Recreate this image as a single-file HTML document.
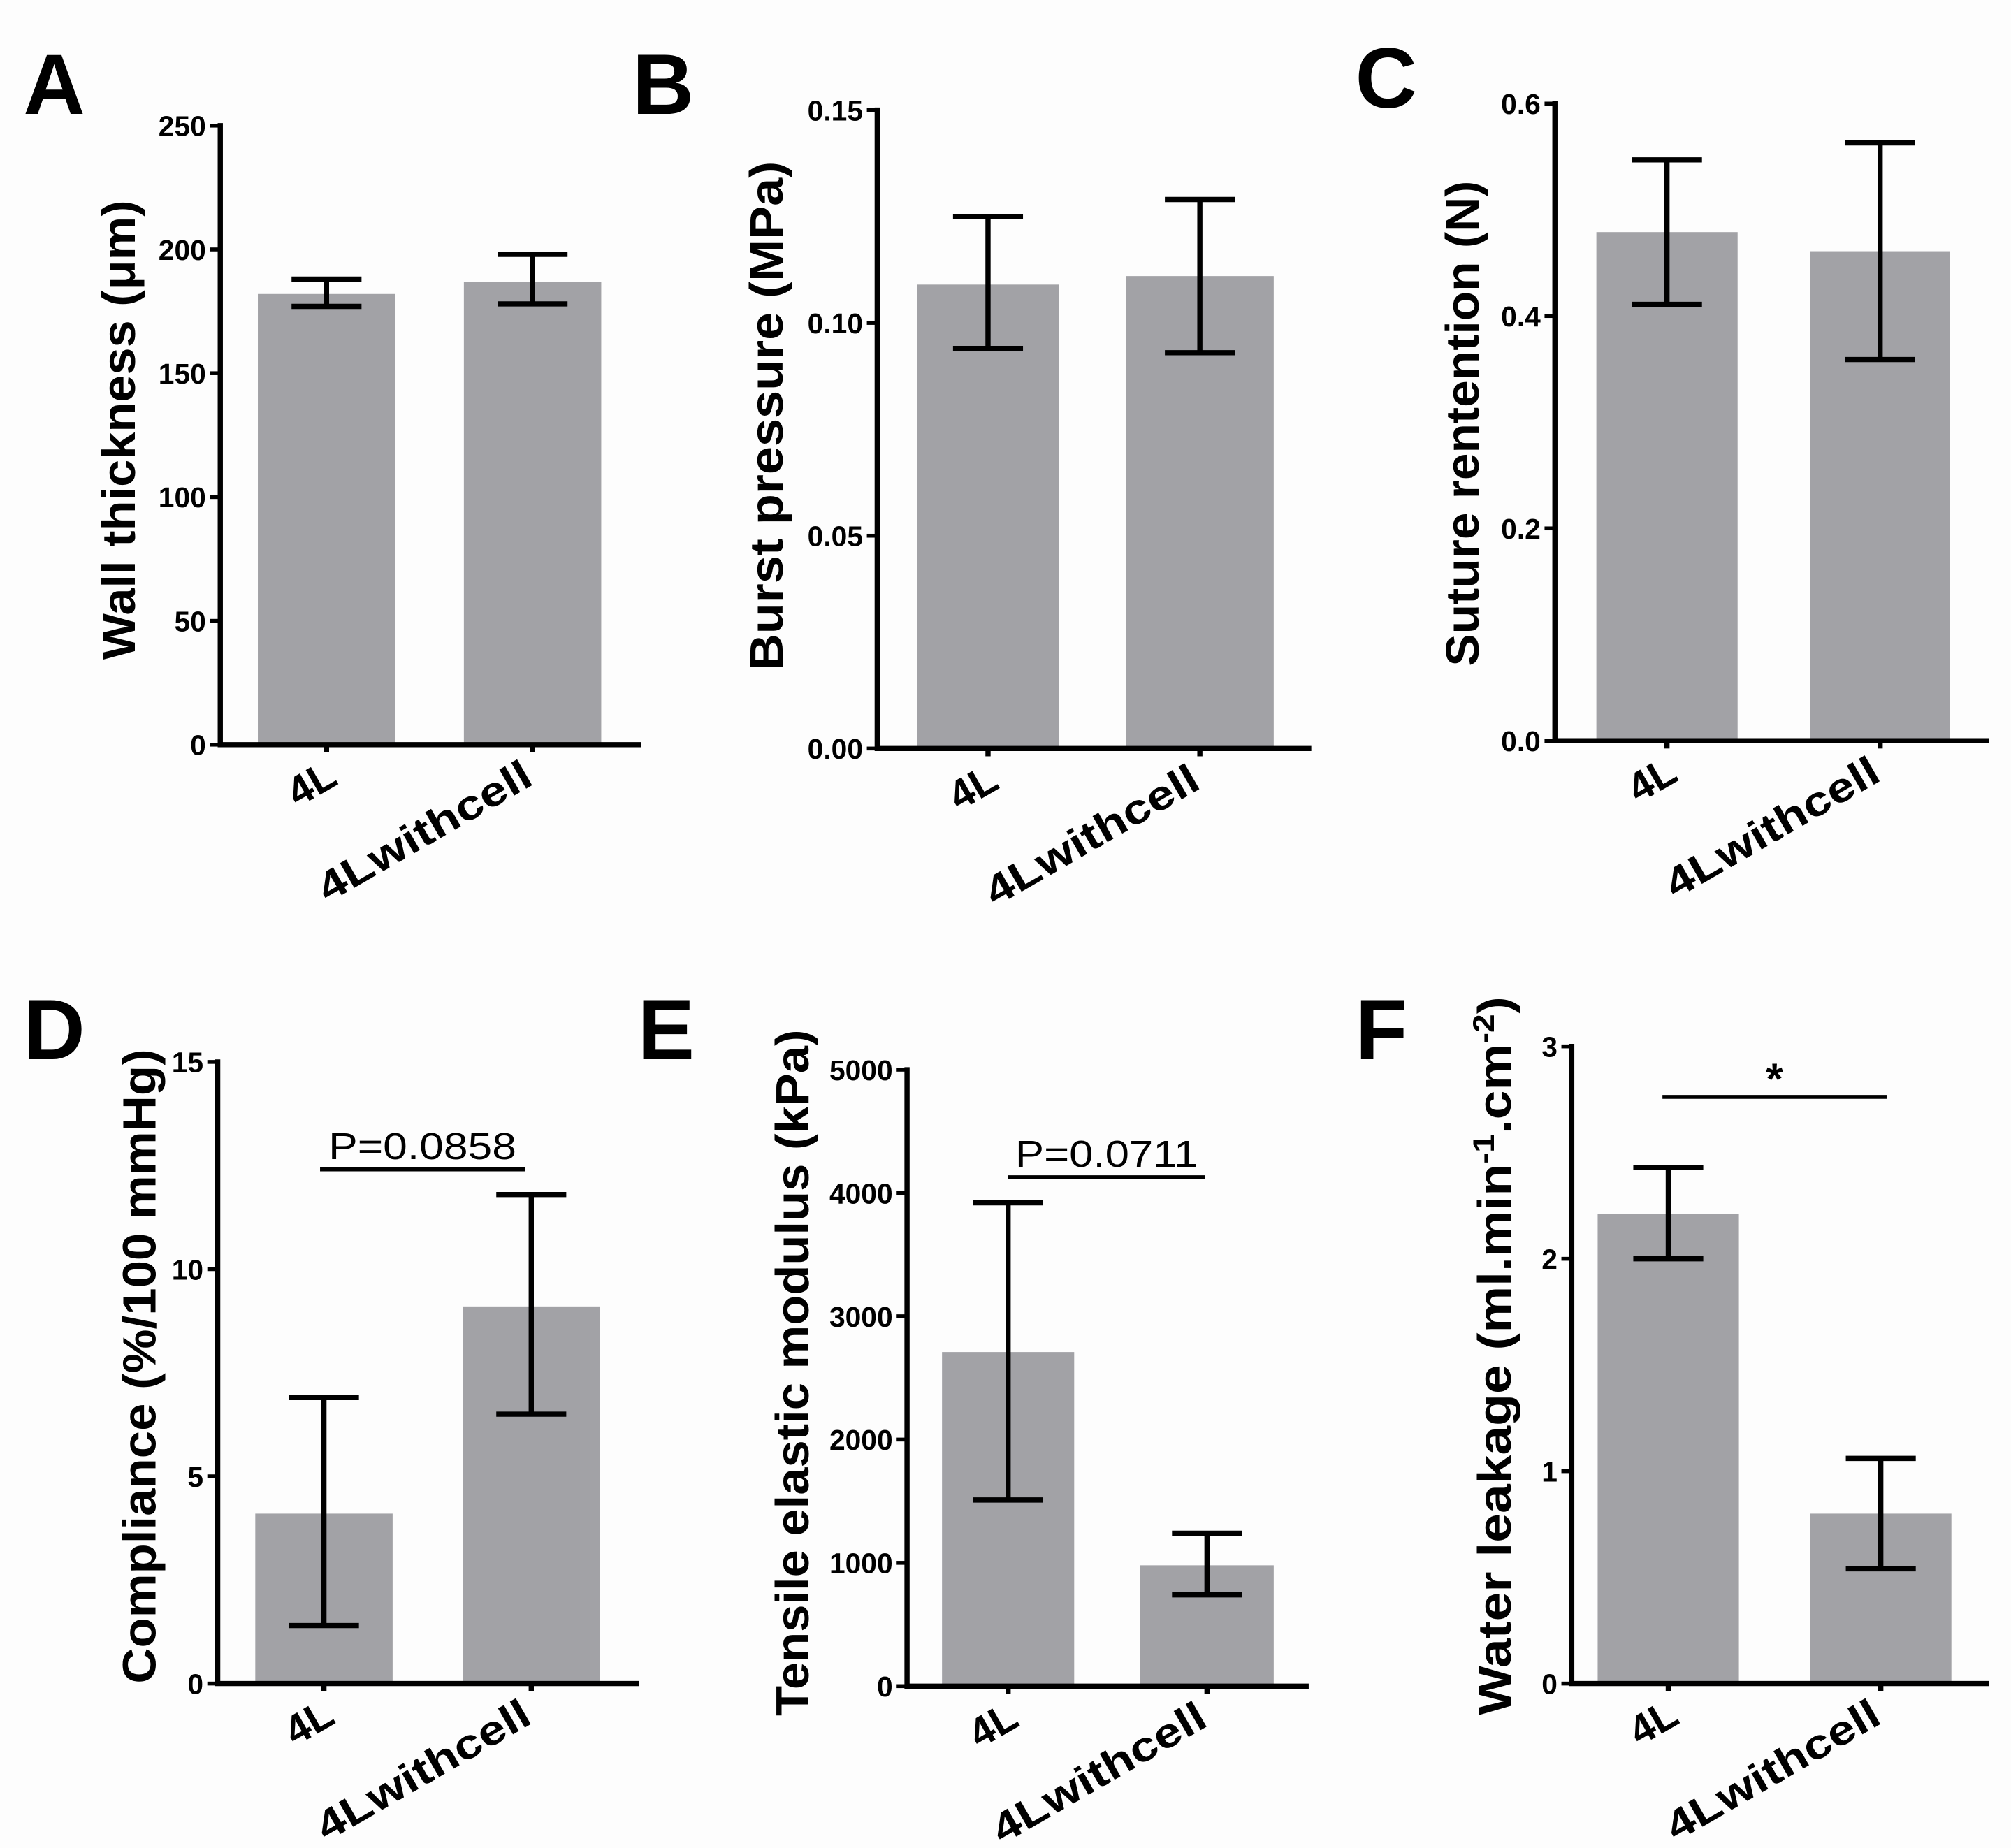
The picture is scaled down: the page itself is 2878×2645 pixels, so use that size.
<!DOCTYPE html>
<html><head><meta charset="utf-8">
<style>
html,body{margin:0;padding:0;background:#fdfdfd;}
svg{display:block;}
text{font-family:"Liberation Sans",Arial,sans-serif;}
</style></head>
<body>
<svg id="fig" width="2878" height="2645" viewBox="0 0 1552 1427" preserveAspectRatio="none" xmlns="http://www.w3.org/2000/svg">
<rect x="0" y="0" width="1552" height="1427" fill="#fdfdfd"/>
</svg>
<script>
const categories = ["4L", "4Lwithcell"];
const valuesA = [182, 187];
const errLowA = [177, 178];
const errHighA = [188, 198];
const ticksA = [0, 50, 100, 150, 200, 250];
const tickLabelsA = ["0", "50", "100", "150", "200", "250"];
const valuesB = [0.109, 0.111];
const errLowB = [0.094, 0.093];
const errHighB = [0.125, 0.129];
const ticksB = [0, 0.05, 0.10, 0.15];
const tickLabelsB = ["0.00", "0.05", "0.10", "0.15"];
const valuesC = [0.479, 0.461];
const errLowC = [0.411, 0.359];
const errHighC = [0.547, 0.563];
const ticksC = [0, 0.2, 0.4, 0.6];
const tickLabelsC = ["0.0", "0.2", "0.4", "0.6"];
const valuesD = [4.1, 9.1];
const errLowD = [1.4, 6.5];
const errHighD = [6.9, 11.8];
const ticksD = [0, 5, 10, 15];
const tickLabelsD = ["0", "5", "10", "15"];
const valuesE = [2710, 980];
const errLowE = [1510, 740];
const errHighE = [3920, 1240];
const ticksE = [0, 1000, 2000, 3000, 4000, 5000];
const tickLabelsE = ["0", "1000", "2000", "3000", "4000", "5000"];
const valuesF = [2.21, 0.80];
const errLowF = [2.0, 0.54];
const errHighF = [2.43, 1.06];
const ticksF = [0, 1, 2, 3];
const tickLabelsF = ["0", "1", "2", "3"];

const NS = "http://www.w3.org/2000/svg";
const svg = document.getElementById("fig");
function mk(tag, attrs, parent, txt){
  const e = document.createElementNS(NS, tag);
  for (const k in attrs) e.setAttribute(k, attrs[k]);
  if (txt !== undefined) e.textContent = txt;
  (parent || svg).appendChild(e);
  return e;
}

const panels = [
 {id:"a", letter:"A", lx:18, ly:88, ax:170, top:97, bot:575, right:495, bars:[[199,305],[358,464]], max:250, vals:valuesA, lo:errLowA, hi:errHighA, ticks:ticksA, tl:tickLabelsA, title:"Wall thickness (μm)", tx:104, ty:332, tlen:355},
 {id:"b", letter:"B", lx:488, ly:88, ax:677, top:85, bot:578, right:1012, bars:[[708,817],[869,983]], max:0.15, vals:valuesB, lo:errLowB, hi:errHighB, ticks:ticksB, tl:tickLabelsB, title:"Burst pressure (MPa)", tx:604, ty:321, tlen:393},
 {id:"c", letter:"C", lx:1046, ly:83, ax:1200, top:80, bot:572, right:1535, bars:[[1232,1341],[1397,1505]], max:0.6, vals:valuesC, lo:errLowC, hi:errHighC, ticks:ticksC, tl:tickLabelsC, title:"Suture rentention (N)", tx:1141, ty:327, tlen:375},
 {id:"d", letter:"D", lx:18, ly:818, ax:168, top:820, bot:1300, right:493, bars:[[197,303],[357,463]], max:15, vals:valuesD, lo:errLowD, hi:errHighD, ticks:ticksD, tl:tickLabelsD, title:"Compliance (%/100 mmHg)", tx:120, ty:1055, tlen:490, sig:{x1:247,x2:405,y:903,label:"P=0.0858",size:29,len:145}},
 {id:"e", letter:"E", lx:492, ly:818, ax:700, top:826, bot:1302, right:1010, bars:[[727,829],[880,983]], max:5000, vals:valuesE, lo:errLowE, hi:errHighE, ticks:ticksE, tl:tickLabelsE, title:"Tensile elastic modulus (kPa)", tx:624, ty:1060, tlen:530, sig:{x1:778,x2:930,y:909,label:"P=0.0711",size:29,len:141}},
 {id:"f", letter:"F", lx:1046, ly:818, ax:1213, top:808, bot:1300, right:1535, bars:[[1233,1342],[1397,1506]], max:3, vals:valuesF, lo:errLowF, hi:errHighF, ticks:ticksF, tl:tickLabelsF, title:"Water leakage (ml.min", tx:1166, ty:1047, tlen:555, sig:{x1:1283,x2:1456,y:847,label:"*",size:34}}
];

panels.forEach(p => {
  const g = mk("g", {});
  
  
  const y = v => p.bot - (v / p.max) * (p.bot - p.top);
  const L = mk("text", {x:p.lx, y:p.ly, "font-size":66, "font-weight":"bold"}, g, p.letter);
  
  
  p.vals.forEach((v, i) => {
    const [x1, x2] = p.bars[i];
    const r = mk("rect", {x:x1, y:y(v), width:x2-x1, height:p.bot - y(v), fill:"#a2a2a6"}, g);
    
    
    const cx = (x1 + x2) / 2, cw = 27;
    const eb = mk("path", {d:`M${cx},${y(p.lo[i])}V${y(p.hi[i])}M${cx-cw},${y(p.lo[i])}H${cx+cw}M${cx-cw},${y(p.hi[i])}H${cx+cw}`, stroke:"#000", "stroke-width":4, fill:"none"}, g);
    
    
    mk("line", {x1:cx, x2:cx, y1:p.bot, y2:p.bot+6, stroke:"#000", "stroke-width":4}, g);
    const lbx = i === 0 ? cx + 10 : cx + 2;
    const lby = p.bot + 30;
    const attrs = {x:lbx, y:lby, "font-size":32, "font-weight":"bold", "text-anchor":"end", transform:`rotate(-30 ${lbx} ${lby})`};
    if (i === 1) { attrs.textLength = 185; attrs.lengthAdjust = "spacingAndGlyphs"; }
    const xl = mk("text", attrs, g, categories[i]);
    
    
  });
  const ax = mk("path", {d:`M${p.ax},${p.top-2}V${p.bot}H${p.right}`, stroke:"#000", "stroke-width":4, fill:"none"}, g);
  
  
  p.ticks.forEach((t, k) => {
    mk("line", {x1:p.ax-8, x2:p.ax, y1:y(t), y2:y(t), stroke:"#000", "stroke-width":3}, g);
    const tl = mk("text", {x:p.ax-11, y:y(t)+8, "font-size":22, "font-weight":"bold", "text-anchor":"end"}, g, p.tl[k]);
    
    
  });
  const tt = mk("text", {x:p.tx, y:p.ty, "font-size":36, "font-weight":"bold", "text-anchor":"middle", textLength:p.tlen, lengthAdjust:"spacingAndGlyphs", transform:`rotate(-90 ${p.tx} ${p.ty})`}, g);
  
  
  if (p.id === "f") {
    tt.appendChild(document.createTextNode("Water leakage (ml.min"));
    mk("tspan", {dy:-13, "font-size":23}, tt, "-1");
    mk("tspan", {dy:13}, tt, ".cm");
    mk("tspan", {dy:-13, "font-size":23}, tt, "-2");
    mk("tspan", {dy:13}, tt, ")");
  } else {
    tt.textContent = p.title;
  }
  if (p.sig) {
    const s = p.sig;
    const sl = mk("line", {x1:s.x1, x2:s.x2, y1:s.y, y2:s.y, stroke:"#000", "stroke-width":3}, g);
    
    
    const sa = {x:(s.x1+s.x2)/2, y:s.label === "*" ? s.y - 2 : s.y - 8, "font-size":s.size, "font-weight":s.label === "*" ? "bold" : "normal", "text-anchor":"middle"};
    if (s.len) { sa.textLength = s.len; sa.lengthAdjust = "spacingAndGlyphs"; }
    const st = mk("text", sa, g, s.label);
    
    
  }
});
</script>
</body></html>
